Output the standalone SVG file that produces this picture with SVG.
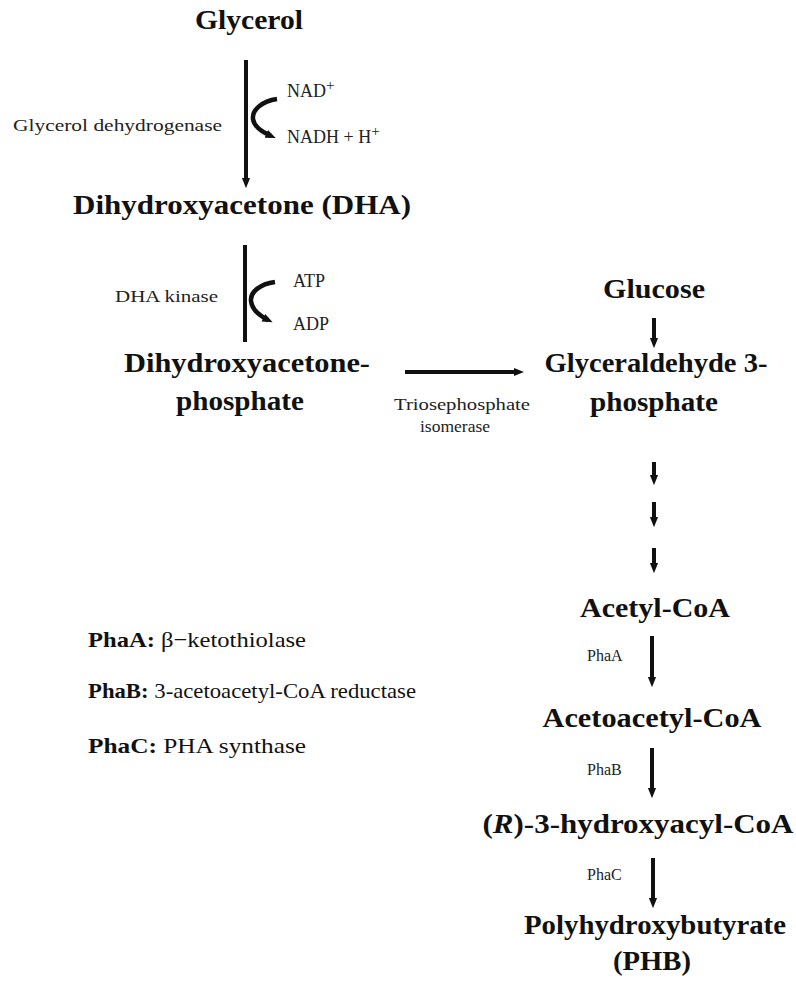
<svg xmlns="http://www.w3.org/2000/svg" width="796" height="991" viewBox="0 0 796 991">
<style>
.t{font-family:"Liberation Serif","Times New Roman",serif;font-weight:bold;font-size:28px;fill:#111;text-anchor:middle}
.s{font-family:"Liberation Serif","Times New Roman",serif;font-size:16px;fill:#222}
.l{font-family:"Liberation Serif","Times New Roman",serif;font-size:22px;fill:#111}
.c{font-family:"Liberation Serif","Times New Roman",serif;font-size:18px;fill:#222}
.ln{stroke:#111;stroke-width:4;fill:none}
.cv{stroke:#111;stroke-width:4.5;fill:none}
</style>
<defs>
<marker id="ah" viewBox="0 0 10 10" refX="5" refY="5" markerWidth="2.6" markerHeight="2.6" orient="auto"><path d="M0,1 L10,5 L0,9 Z" fill="#111"/></marker>
<marker id="ah2" viewBox="0 0 10 10" refX="5" refY="5" markerWidth="2.3" markerHeight="2.3" orient="auto"><path d="M0,1 L10,5 L0,9 Z" fill="#111"/></marker>
</defs>
<g id="glycerol"><text class="t" x="249" y="29" textLength="108" lengthAdjust="spacingAndGlyphs">Glycerol</text></g>
<g id="dha"><text class="t" x="242" y="214" textLength="338" lengthAdjust="spacingAndGlyphs">Dihydroxyacetone (DHA)</text></g>
<g id="dhap"><text class="t" x="247" y="372" textLength="246" lengthAdjust="spacingAndGlyphs">Dihydroxyacetone-</text><text class="t" x="240" y="410" textLength="128" lengthAdjust="spacingAndGlyphs">phosphate</text></g>
<g id="glucose"><text class="t" x="654" y="298" textLength="102" lengthAdjust="spacingAndGlyphs">Glucose</text></g>
<g id="g3p"><text class="t" x="656" y="372" textLength="223" lengthAdjust="spacingAndGlyphs">Glyceraldehyde 3-</text><text class="t" x="654" y="411" textLength="128" lengthAdjust="spacingAndGlyphs">phosphate</text></g>
<g id="acetylcoa"><text class="t" x="655" y="617" textLength="150" lengthAdjust="spacingAndGlyphs">Acetyl-CoA</text></g>
<g id="acetoacetylcoa"><text class="t" x="652" y="727" textLength="219" lengthAdjust="spacingAndGlyphs">Acetoacetyl-CoA</text></g>
<g id="hydroxyacyl"><text class="t" x="638" y="833" textLength="311" lengthAdjust="spacingAndGlyphs">(<tspan font-style="italic">R</tspan>)-3-hydroxyacyl-CoA</text></g>
<g id="phb"><text class="t" x="655" y="934" textLength="262" lengthAdjust="spacingAndGlyphs">Polyhydroxybutyrate</text><text class="t" x="652" y="970" textLength="78" lengthAdjust="spacingAndGlyphs">(PHB)</text></g>
<g id="labels">
<text class="s" x="13" y="131" textLength="209" lengthAdjust="spacingAndGlyphs">Glycerol dehydrogenase</text>
<text class="c" x="287" y="97">NAD<tspan dy="-7" font-size="15">+</tspan></text>
<text class="c" x="287" y="143">NADH + H<tspan dy="-7" font-size="15">+</tspan></text>
<text class="s" x="115" y="302" textLength="103" lengthAdjust="spacingAndGlyphs">DHA kinase</text>
<text class="c" x="293" y="287">ATP</text>
<text class="c" x="293" y="330">ADP</text>
<text class="s" x="462" y="410" text-anchor="middle" textLength="136" lengthAdjust="spacingAndGlyphs">Triosephosphate</text>
<text class="s" x="455" y="432" text-anchor="middle" textLength="70" lengthAdjust="spacingAndGlyphs">isomerase</text>
<text class="s" x="587" y="661" font-size="17">PhaA</text>
<text class="s" x="587" y="775" font-size="17">PhaB</text>
<text class="s" x="587" y="880" font-size="17">PhaC</text>
</g>
<g id="legend">
<text class="l" x="88" y="647" textLength="218" lengthAdjust="spacingAndGlyphs"><tspan font-weight="bold">PhaA:</tspan> β−ketothiolase</text>
<text class="l" x="88" y="698" textLength="328" lengthAdjust="spacingAndGlyphs"><tspan font-weight="bold">PhaB:</tspan> 3-acetoacetyl-CoA reductase</text>
<text class="l" x="88" y="753" textLength="218" lengthAdjust="spacingAndGlyphs"><tspan font-weight="bold">PhaC:</tspan> PHA synthase</text>
</g>
<g id="connectors">
<line class="ln" x1="246" y1="60" x2="246" y2="183" marker-end="url(#ah)"/>
<path class="cv" d="M277,99 C262,101 252,110 253,119 C254,127 262,132 271,136" marker-end="url(#ah2)"/>
<line class="ln" x1="245" y1="245" x2="245" y2="342"/>
<path class="cv" d="M275,282 C260,284 250,292 251,301 C252,310 260,316 268,320" marker-end="url(#ah2)"/>
<line class="ln" x1="405" y1="372" x2="519" y2="372" stroke-width="5" marker-end="url(#ah)"/>
<line class="ln" x1="654" y1="318" x2="654" y2="343" marker-end="url(#ah)"/>
<line class="ln" x1="654" y1="462" x2="654" y2="480" marker-end="url(#ah)"/>
<line class="ln" x1="654" y1="502" x2="654" y2="522" marker-end="url(#ah)"/>
<line class="ln" x1="654" y1="548" x2="654" y2="568" marker-end="url(#ah)"/>
<line class="ln" x1="652" y1="636" x2="652" y2="682" marker-end="url(#ah)"/>
<line class="ln" x1="652" y1="748" x2="652" y2="793" marker-end="url(#ah)"/>
<line class="ln" x1="653" y1="858" x2="653" y2="903" marker-end="url(#ah)"/>
</g>
</svg>
